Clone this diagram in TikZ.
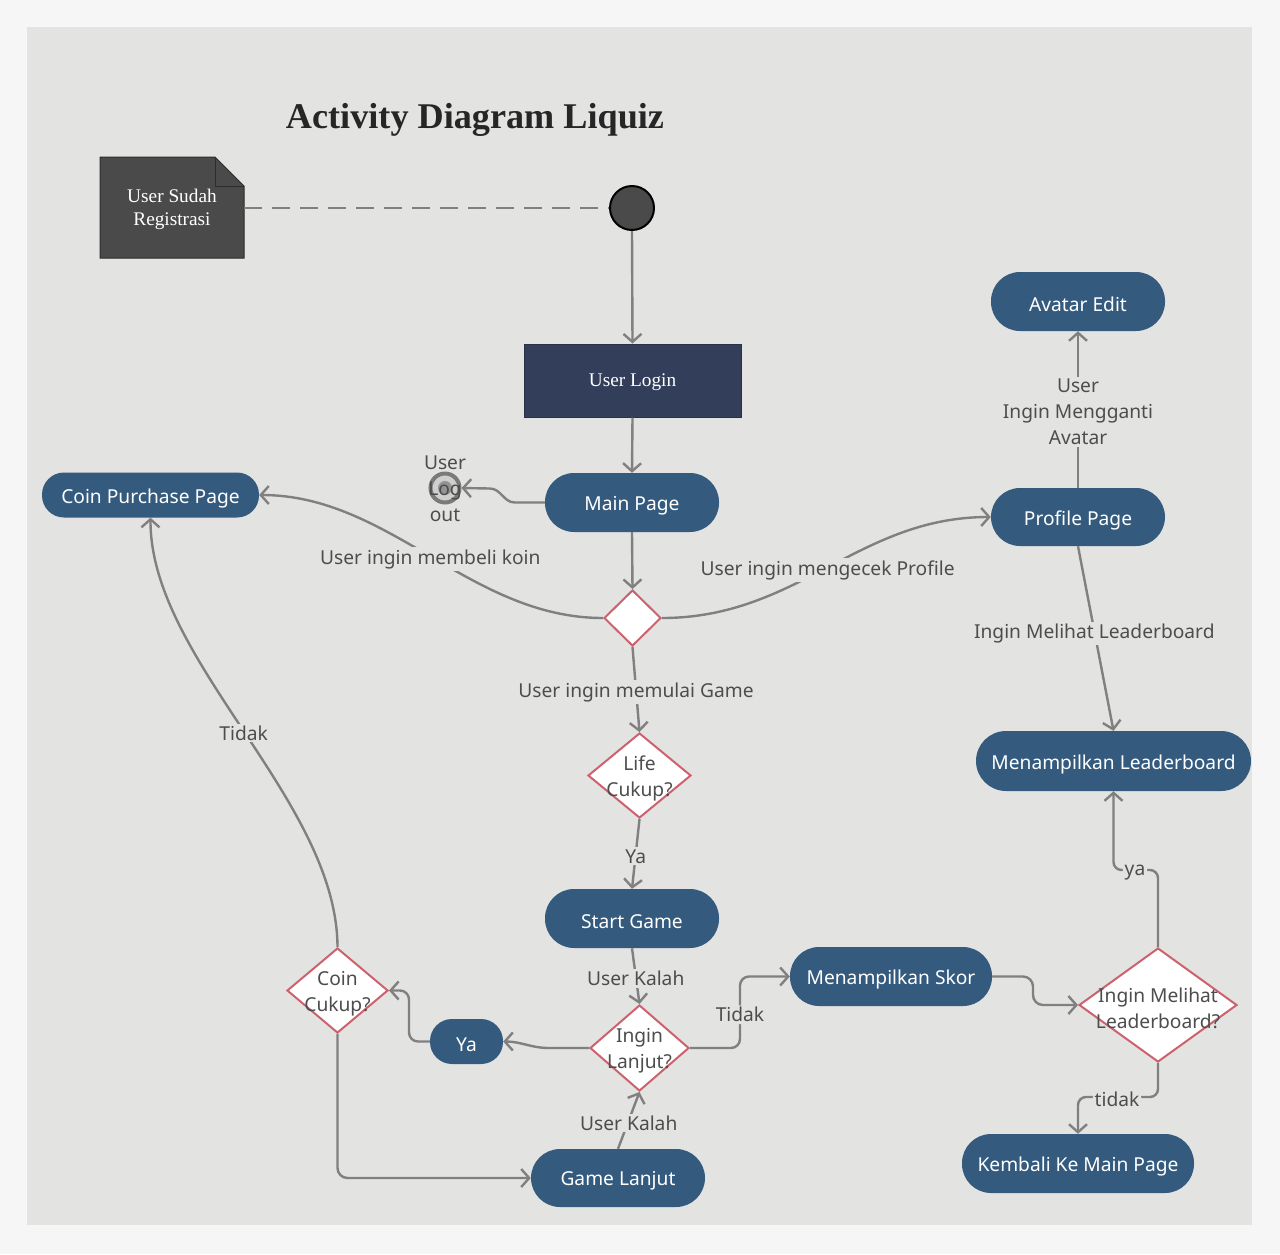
\documentclass[tikz,border=0pt]{standalone}
\usepackage{fontspec}
\setmainfont{Noto Sans}
\newfontfamily\serifttl{Liberation Serif}
\usetikzlibrary{shapes.geometric,arrows.meta}
\definecolor{bgout}{RGB}{246,246,246}
\definecolor{panel}{RGB}{227,227,226}
\definecolor{pillc}{RGB}{52,90,126}
\definecolor{loginc}{RGB}{51,63,90}
\definecolor{notec}{RGB}{74,74,74}
\definecolor{noteb}{RGB}{45,45,45}
\definecolor{linec}{RGB}{128,128,128}
\definecolor{lblc}{RGB}{77,77,77}
\definecolor{diac}{RGB}{204,98,110}
\begin{document}
\begin{tikzpicture}[x=1pt,y=-1pt,
  txt/.style={font=\fontsize{19.2}{26}\selectfont},
  pill/.style={fill=pillc, inner sep=0pt},
  ptext/.style={txt, text=white, yshift=-3pt},
  dia/.style={diamond, draw=diac, line width=2pt, fill=white, inner sep=0pt},
  dtext/.style={txt, text=lblc, align=center, yshift=-3pt},
  lbl/.style={txt, fill=panel, text=lblc, inner sep=2pt, align=center, yshift=-2.5pt},
  arr/.style={draw=linec, line width=2.4pt, -{Straight Barb[length=8pt,width=18pt]}},
  ]
\useasboundingbox (0,0) rectangle (1280,1254);
\fill[bgout] (0,0) rectangle (1280,1254);
\fill[panel] (27,27) rectangle (1252,1225);

% title
\node[font=\serifttl\bfseries\fontsize{36.2}{40}\selectfont, text=black!85] (title) at (475,120) {Activity Diagram Liquiz};

% note
\filldraw[fill=notec, draw=noteb, line width=1pt] (100,157) -- (215,157) -- (244,186) -- (244,258) -- (100,258) -- cycle;
\draw[noteb, line width=1pt] (215,157) -- (215,186) -- (244,186);
\node[minimum width=144pt, minimum height=101pt, inner sep=0pt,
  label={[font=\serifttl\fontsize{19.3}{23}\selectfont, text=white, align=center, yshift=-1.5pt]center:{User Sudah\\Registrasi}}] (note) at (172,208) {};

% start
\node[circle, fill=notec, draw=black, line width=2pt, minimum size=44pt, inner sep=0pt] (start) at (632,208) {};
\draw[linec, line width=2.2pt, dash pattern=on 18pt off 10pt] (note.east) -- (start.west);

% login
\node[fill=loginc, draw=loginc!80!black, line width=1pt, minimum width=217pt, minimum height=73pt, inner sep=0pt,
  label={[text=white, font=\serifttl\fontsize{19.3}{23}\selectfont, yshift=-2pt]center:User Login}] (login) at (632.5,380.5) {};

% pills
\node[pill, rounded corners=29pt, minimum width=174pt, minimum height=59pt, label={[ptext]center:Main Page}] (main) at (632,502.5) {};
\node[pill, rounded corners=22pt, minimum width=217pt, minimum height=45pt, label={[ptext]center:Coin Purchase Page}] (coinp) at (150.5,495) {};
\node[pill, rounded corners=29pt, minimum width=174pt, minimum height=59pt, label={[ptext]center:Avatar Edit}] (avatar) at (1078,301.5) {};
\node[pill, rounded corners=29pt, minimum width=174pt, minimum height=58pt, label={[ptext]center:Profile Page}] (profile) at (1078,517) {};
\node[pill, rounded corners=30pt, minimum width=275pt, minimum height=60pt, label={[ptext]center:Menampilkan Leaderboard}] (mlb) at (1113.5,761) {};
\node[pill, rounded corners=29pt, minimum width=174pt, minimum height=59pt, label={[ptext]center:Start Game}] (startg) at (632,918.5) {};
\node[pill, rounded corners=29pt, minimum width=202pt, minimum height=59pt, label={[ptext]center:Menampilkan Skor}] (skor) at (891,976.5) {};
\node[pill, rounded corners=22pt, minimum width=73pt, minimum height=45pt, label={[ptext]center:Ya}] (ya) at (466.5,1041.5) {};
\node[pill, rounded corners=29pt, minimum width=174pt, minimum height=58pt, label={[ptext]center:Game Lanjut}] (gamel) at (618,1178) {};
\node[pill, rounded corners=29pt, minimum width=232pt, minimum height=59pt, label={[ptext]center:Kembali Ke Main Page}] (kembali) at (1078,1163.5) {};

% diamonds
\node[dia, minimum width=57pt, minimum height=56pt] (d1) at (632.5,618) {};
\node[dia, minimum width=103pt, minimum height=85pt, label={[dtext]center:{Life\\Cukup?}}] (life) at (639.5,775.5) {};
\node[dia, minimum width=99pt, minimum height=86pt, label={[dtext]center:{Ingin\\Lanjut?}}] (ingin) at (639.5,1048) {};
\node[dia, minimum width=101pt, minimum height=85pt, label={[dtext]center:{Coin\\Cukup?}}] (coinc) at (337.5,990.5) {};
\node[dia, minimum width=158pt, minimum height=114pt, label={[dtext]center:{Ingin Melihat\\Leaderboard?}}] (ilb) at (1158,1005) {};

% logout final node
\node[circle, draw=linec!95!black, line width=4pt, fill=panel!80!gray, minimum size=29pt, inner sep=0pt,
  path picture={\fill[linec!85] (path picture bounding box.center) circle (7pt);}] (logout) at (445,488) {};
\node[txt, text=lblc, align=center] (logoutlbl) at (445,489) {User\\Log\\out};

% connectors
\draw[arr] (start.south) -- (login.north);
\draw[arr] (login.south) -- (main.north);
\draw[arr] (main.west) -- ++(-30,0) to[out=180,in=0] ++(-25,-14) -- (logout.east);
\draw[arr] (main.south) -- (d1.north);
\draw[arr] (d1.west) .. controls (470,618) and (390,495) .. node[lbl]{User ingin membeli koin} (coinp.east);
\draw[arr] (d1.east) .. controls (798,618) and (858,517) .. node[lbl]{User ingin mengecek Profile} (profile.west);
\draw[arr] (d1.south) -- node[lbl]{User ingin memulai Game} (life.north);
\draw[arr] (life.south) -- node[lbl]{Ya} (startg.north);
\draw[arr] (startg.south) -- node[lbl]{User Kalah} (ingin.north);
\draw[arr] (gamel.north) -- node[lbl]{User Kalah} (ingin.south);
\draw[arr] (ingin.west) -- ++(-40,0) to[out=180,in=0] (ya.east);
\draw[arr, rounded corners=9pt] (ya.west) -- (409,1041.5) -- (409,990.5) -- (coinc.east);
\draw[arr, rounded corners=10pt] (coinc.south) |- (gamel.west);
\draw[arr] (coinc.north) .. controls (337,800) and (150,660) .. node[lbl]{Tidak} (coinp.south);
\draw[arr, rounded corners=9pt] (ingin.east) -- (740,1048) -- node[lbl]{Tidak} (740,976.5) -- (skor.west);
\draw[arr, rounded corners=10pt] (skor.east) -- (1033,976.5) -- (1033,1005) -- (ilb.west);
\draw[arr, rounded corners=8pt] (ilb.north) |- (1135,870) node[lbl]{ya} -| (mlb.south);
\draw[arr, rounded corners=8pt] (ilb.south) |- (1117,1097) node[lbl]{tidak} -| (kembali.north);
\draw[arr] (profile.south) -- node[lbl, pos=0.46]{Ingin Melihat Leaderboard} (mlb.north);
\draw[arr] (profile.north) -- node[lbl]{User\\Ingin Mengganti\\Avatar} (avatar.south);
\end{tikzpicture}
\end{document}
